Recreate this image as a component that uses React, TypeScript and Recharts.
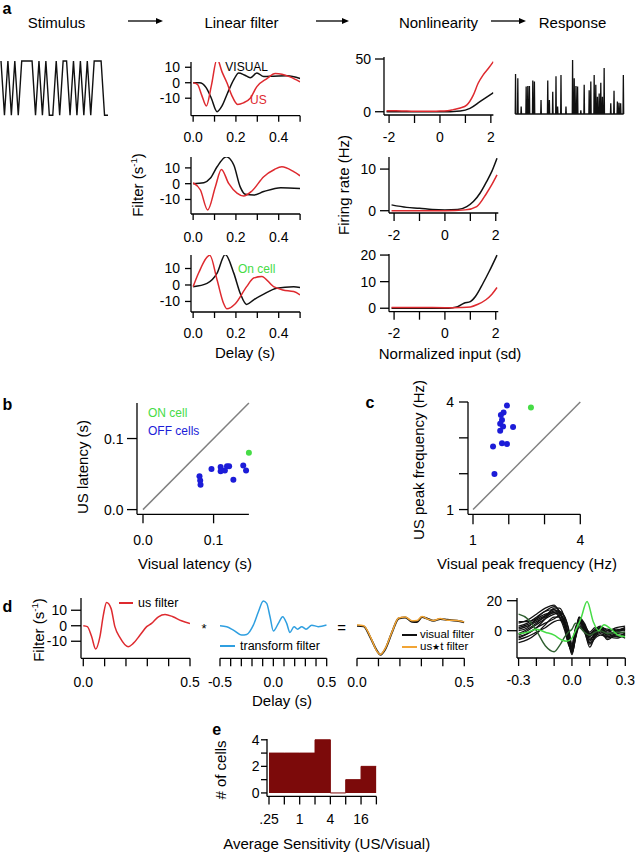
import React from "react";
import { ComposedChart, Line, Area, Scatter, XAxis, YAxis, ReferenceLine } from "recharts";

const RED = "#de2a2f";
const BLACK = "#111111";
const GREEN = "#46dc46";
const BLUE = "#1c1cd8";
const GRAY = "#808080";
const SKY = "#2f9fe0";
const ORANGE = "#f2a535";
const DKGREEN = "#2f5f30";
const MAROON = "#7c0a0a";
const FONT = '"Liberation Sans", Arial, Helvetica, sans-serif';

// a: stimulus (binary flicker) and spike response
const stimulusLevels = [1, 0, 1, 0, 1, 0, 1, 1, 1, 1, 0, 1, 0, 1, 0, 0, 1, 0, 1, 1, 0, 1, 0, 1, 0, 1, 0, 1, 1, 1, 0, 0];
const spikeTimes = [0, 0.21, 0.52, 0.98, 1.13, 1.28, 1.59, 1.74, 2.35, 2.97, 3.12, 3.43, 3.73, 3.88, 4.19, 4.65, 5.26, 5.41, 5.57, 5.72, 6.02, 6.33, 6.79, 6.94, 7.25, 7.4, 7.55, 7.71, 7.86, 8.01, 8.17, 8.78, 9.08, 9.39, 9.54, 9.69, 9.94];
const spikeHeights = [0.74, 0.66, 0.14, 0.51, 0.52, 0.52, 0.62, 0.6, 0.26, 0.62, 0.26, 0.41, 0.7, 0.14, 0.72, 0.14, 1, 0.66, 0.52, 0.51, 0.07, 0.54, 0.44, 0.6, 0.72, 0.54, 0.32, 0.38, 0.58, 0.32, 0.85, 0.2, 0.43, 0.23, 0.21, 0.2, 0.72];

// a: linear filters (delay s, filter s^-1)
const a1VisualDelay = [0, 0.03, 0.06, 0.085, 0.112, 0.135, 0.16, 0.19, 0.213, 0.24, 0.267, 0.298, 0.33, 0.376, 0.44, 0.5];
const a1Visual = [0, 0, -3, -10, -18.7, -15, -7, 2, 6.3, 5, 3.2, 6.3, 4, 4.2, 4.5, 2.7];
const a1UsDelay = [0, 0.02, 0.04, 0.062, 0.085, 0.112, 0.135, 0.158, 0.18, 0.208, 0.235, 0.267, 0.298, 0.345, 0.384, 0.415, 0.453, 0.5];
const a1Us = [0, -1, -8, -15, -2, 15.4, 7, 0, -8, -14, -13, -10, -2.5, 2.7, 5.9, 5.5, 3.8, 0.6];
const a2VisualDelay = [0, 0.05, 0.08, 0.112, 0.155, 0.19, 0.22, 0.244, 0.283, 0.33, 0.41, 0.5];
const a2Visual = [0, 0.6, 3.4, 10.7, 17, 11.8, -2, -6.7, -7.2, -5, -2.5, -3];
const a2UsDelay = [0, 0.034, 0.068, 0.104, 0.132, 0.166, 0.205, 0.236, 0.275, 0.33, 0.38, 0.415, 0.47, 0.5];
const a2Us = [0.6, -4, -16.6, -1.9, 9, 0.2, -6, -7.8, -4.6, 4.4, 9, 10.7, 7.6, 5];
const a3VisualDelay = [0, 0.065, 0.112, 0.15, 0.19, 0.22, 0.25, 0.283, 0.33, 0.39, 0.47, 0.5];
const a3Visual = [-1, 1, 7.2, 18.5, 7.2, -5, -11.8, -9, -5.6, -2, -1, -1.6];
const a3UsDelay = [0, 0.026, 0.078, 0.112, 0.143, 0.158, 0.197, 0.25, 0.283, 0.32, 0.376, 0.42, 0.47, 0.5];
const a3Us = [-1, 7.4, 18, 3, -11.4, -14.5, -11.4, -1, 4.2, 5.2, -1, -3, -4, -6];

// a: nonlinearities (input sd, rate Hz)
const n1UsInput = [-2.1, -1.5, -1, -0.5, 0, 0.3, 0.52, 0.8, 1.05, 1.31, 1.5, 1.7, 1.9, 2.1];
const n1Us = [1, 0.8, 0.5, 0.5, 0.6, 1, 2, 3.5, 6.3, 15.8, 27, 35, 41, 47.5];
const n1VisualInput = [-2.1, -1, 0, 0.8, 1.18, 1.57, 2.1];
const n1Visual = [0, 0, 0, 0.8, 3.2, 9.5, 18];
const n2VisualInput = [-2.1, -1.5, -1, -0.5, 0, 0.5, 0.86, 1.12, 1.38, 1.64, 1.85, 2.05];
const n2Visual = [1.4, 0.8, 0.6, 0.3, 0.2, 0.3, 1, 2.2, 4.2, 7, 9.5, 12.6];
const n2UsInput = [-2.1, -1, 0, 0.8, 1.25, 1.64, 1.85, 2.05];
const n2Us = [0, 0, 0, 0.2, 1, 4.2, 6.3, 8.6];
const n3VisualInput = [-2.1, -1, 0, 0.3, 0.5, 0.75, 1.0, 1.2, 1.5, 1.75, 2.05];
const n3Visual = [0, 0, 0, 0.2, 0.6, 1.9, 2.5, 4.4, 9.4, 14, 20];
const n3UsInput = [-2.1, -1, 0, 0.6, 1.0, 1.3, 1.6, 1.85, 2.05];
const n3Us = [0.3, 0.3, 0.2, 0.3, 0.5, 1.5, 3.1, 5.3, 7.8];

// b: latencies (s)
const offVisualLatency = [0.08, 0.081, 0.0815, 0.097, 0.11, 0.11, 0.116, 0.119, 0.122, 0.128, 0.142, 0.146];
const offUsLatency = [0.047, 0.041, 0.035, 0.057, 0.06, 0.054, 0.055, 0.061, 0.061, 0.042, 0.062, 0.055];
const onVisualLatency = [0.15];
const onUsLatency = [0.08];

// c: peak frequencies (Hz)
const offVisualPeak = [1.95, 1.855, 1.78, 1.81, 1.76, 1.84, 1.76, 2.12, 1.81, 1.95, 1.56, 1.6];
const offUsPeak = [3.9, 3.71, 3.64, 3.5, 3.39, 3.32, 3.2, 3.3, 2.85, 2.83, 2.76, 1.99];
const onVisualPeak = [2.62];
const onUsPeak = [3.85];

// d: us filter * transform filter = visual filter
const usFilterDelay = [0, 0.019, 0.039, 0.058, 0.078, 0.094, 0.109, 0.13, 0.148, 0.172, 0.21, 0.234, 0.266, 0.297, 0.32, 0.352, 0.383, 0.42, 0.46, 0.5];
const usFilter = [0, -0.6, -7, -15, -7, 6.9, 15, 11.2, -0.6, -7.7, -13.5, -11.4, -6, -0.6, 1.5, 5.8, 7.3, 5.8, 3.2, 1.5];
const transformDelay = [-0.5, -0.4375, -0.375, -0.297, -0.25, -0.1875, -0.14, -0.094, -0.0625, -0.031, 0, 0.047, 0.0875, 0.125, 0.156, 0.194, 0.228, 0.266, 0.306, 0.36, 0.42, 0.5];
const transformFilter = [0, -0.6, -2.8, -6, -5.6, 0.4, 9, 15.9, 14.4, 5.8, -3.4, 1.5, 5.8, 1.5, -4.3, -0.6, -2.2, -0.6, -2.2, 0.4, -0.6, 0.5];
const visualFilterDelay = [0, 0.031, 0.062, 0.093, 0.109, 0.132, 0.163, 0.194, 0.225, 0.256, 0.28, 0.303, 0.326, 0.357, 0.388, 0.42, 0.466, 0.5];
const visualFilter = [0, -0.4, -7.5, -16.1, -18.7, -15, -4.3, 4.7, 5.4, 2.6, 2.4, 5.6, 4.7, 3.2, 4.3, 3.9, 3.2, 2.2];
const usTFilter = [0.5, 0, -7, -16.5, -18.5, -14.5, -4, 5, 5.6, 3.2, 3.4, 6, 4.5, 3.4, 4.6, 3.6, 3.4, 2.5];

// d: all cells, aligned filters
const sweepDelay = [-0.3, -0.25, -0.2, -0.15, -0.1, -0.07, -0.04, -0.02, 0, 0.02, 0.04, 0.07, 0.1, 0.13, 0.16, 0.2, 0.25, 0.3];
const offFilters = [
  [-2, 1, 5, 10, 14, 12, 4, -6, -13, -3, 6, 3, -3, -1, 1, -2, -1, 1],
  [3, 5, 9, 13, 16, 13, 5, -4, -15, -5, 8, 4, -6, -2, 0, -3, 0, 2],
  [-5, -2, 2, 5, 8, 10, 6, -3, -12, 0, 5, 1, -8, -3, 1, -4, -2, -3],
  [1, 3, 6, 9, 12, 11, 6, -3, -11, -1, 7, 2, -4, 0, 2, -1, 1, 0],
  [-8, -6, -2, 4, 9, 9, 2, -8, -14, -2, 4, 0, -11, -4, -2, -5, -3, -5],
  [5, 7, 11, 15, 17, 12, 3, -7, -16, -4, 9, 5, -2, 1, 3, 0, 2, 3],
  [-3, 0, 4, 8, 11, 12, 9, 1, -10, 2, 6, 3, -5, -3, -1, -2, -4, -2],
  [0, 2, 8, 13, 14, 9, 0, -9, -13, -4, 3, 0, -7, -1, 2, -3, 0, 1],
  [-6, -4, -1, 2, 6, 7, 5, -2, -12, -1, 9, 2, -3, -2, 0, -6, -2, -1],
  [2, 4, 7, 10, 13, 13, 9, 2, -9, 1, 5, 3, -1, 2, 1, -2, -1, -2],
  [-4, -2, 2, 8, 15, 15, 7, -6, -15, -5, 2, -1, -9, -5, -3, -4, -5, -3],
  [6, 6, 8, 11, 12, 9, 3, -4, -11, 0, 7, 4, -2, 0, 2, 1, 0, 2],
];
const darkGreenFilter = [11, 8, 0, -10, -14, -10, -4, -1, 1, 5, 3, -1, -3, -1, 0, -2, -1, -1];
const onCellDelay = [-0.3, -0.25, -0.2, -0.15, -0.1, -0.06, -0.03, 0, 0.02, 0.05, 0.085, 0.12, 0.15, 0.18, 0.22, 0.26, 0.3];
const onCellFilter = [-2, -1, 1, -1, -3, -6, -7, -5, 0, 8, 19.5, 6, 0, 4, 1, -3, -4];

// e: histogram of average sensitivity (log2 bin edges)
const sensitivityBinStart = [-2, -1, 0, 1, 2, 3, 4];
const sensitivityBinEnd = 5;
const cellCounts = [3, 3, 3, 4, 0, 1, 2];
const sensitivityLabels: Record<number, string> = { [-2]: ".25", 0: "1", 2: "4", 4: "16" };

const pts = (xs: number[], ys: number[]) => xs.map((x, i) => ({ x, y: ys[i] }));
const stimulusRows = stimulusLevels.map((v, i) => ({ x: i, y: v }));
const responseRows = spikeTimes.flatMap((t, i) => [
  { x: t - 0.03, y: 0 },
  { x: t, y: spikeHeights[i] },
  { x: t + 0.03, y: 0 },
]);
const histRows = [
  ...sensitivityBinStart.map((x, i) => ({ x, y: cellCounts[i] })),
  { x: sensitivityBinEnd, y: cellCounts[cellCounts.length - 1] },
];

type Box = { x: number; y: number; w: number; h: number };
const AX = { stroke: "#000", strokeWidth: 1.3 };
const TICK = { fill: "#000", fontSize: 14 };

const only = (shown: number[], fmt: (v: number) => string) => (v: number) =>
  shown.some((s) => Math.abs(s - v) < 1e-9) ? fmt(v) : "";
const f1 = (v: number) => v.toFixed(1);

function Plot({ box, yw = 0, xh = 0, padLeft = 4, children }: {
  box: Box; yw?: number; xh?: number; padLeft?: number; children: React.ReactNode;
}) {
  const pad = { top: 10, right: 14, bottom: 6, left: padLeft };
  return (
    <div style={{ position: "absolute", left: box.x - yw - pad.left, top: box.y - pad.top }}>
      <ComposedChart width={pad.left + yw + box.w + pad.right} height={pad.top + box.h + xh + pad.bottom} margin={pad}>
        {children}
      </ComposedChart>
    </div>
  );
}

function xAxis(domain: [number, number], ticks: number[], fmt: (v: number) => string, size: number, margin: number, clip = true) {
  return (
    <XAxis type="number" dataKey="x" domain={domain} allowDataOverflow={clip} ticks={ticks} interval={0}
      tickFormatter={fmt} tickSize={size} tickMargin={margin} height={34} axisLine={AX} tickLine={AX} tick={TICK} />
  );
}

function yAxis(domain: [number, number], ticks: number[], fmt: (v: number) => string, size: number, margin: number, clip = true) {
  return (
    <YAxis type="number" dataKey="y" domain={domain} allowDataOverflow={clip} ticks={ticks} interval={0}
      tickFormatter={fmt} tickSize={size} tickMargin={margin} width={40} axisLine={AX} tickLine={AX} tick={TICK} />
  );
}

function trace(data: { x: number; y: number }[], color: string, width = 1.5, type: "monotone" | "linear" = "monotone") {
  return <Line data={data} dataKey="y" type={type} stroke={color} strokeWidth={width} dot={false} isAnimationActive={false} />;
}

function dots(data: { x: number; y: number }[], color: string) {
  return (
    <Scatter data={data} dataKey="y" fill={color} isAnimationActive={false}
      shape={(p: any) => <circle cx={p.cx} cy={p.cy} r={3} fill={color} />} />
  );
}

function T({ x, y, children, size = 15, color = "#000", align = "middle", rotate = false, bold = false }: {
  x: number; y: number; children: React.ReactNode; size?: number; color?: string;
  align?: "middle" | "start"; rotate?: boolean; bold?: boolean;
}) {
  const dx = align === "middle" ? "-50%" : "0%";
  return (
    <div style={{
      position: "absolute", left: x, top: y, transform: `translate(${dx}, -50%)` + (rotate ? " rotate(-90deg)" : ""),
      fontSize: size, color, fontWeight: bold ? 700 : 400, whiteSpace: "nowrap", lineHeight: 1,
    }}>
      {children}
    </div>
  );
}

function Swatch({ x1, x2, y, color }: { x1: number; x2: number; y: number; color: string }) {
  return <div style={{ position: "absolute", left: x1, top: y - 1, width: x2 - x1, height: 2, background: color }} />;
}

const FILTER_X = [0, 0.1, 0.2, 0.3, 0.4, 0.5];
const NL_X = [-2, -1, 0, 1, 2];

export default function App() {
  const filterPanel = (box: Box, yDom: [number, number], labelY: number, visual: any[], us: any[]) => (
    <Plot box={box} yw={40} xh={34}>
      {xAxis([-0.01, 0.5], FILTER_X, only([0, 0.2, 0.4], f1), 6, labelY - 5 - (box.y + box.h) - 6)}
      {yAxis(yDom, [-10, 0, 10], String, 6, 5)}
      {trace(visual, BLACK)}
      {trace(us, RED)}
    </Plot>
  );
  const nlPanel = (box: Box, yDom: [number, number], yTicks: number[], labelY: number, visual: any[], us: any[]) => (
    <Plot box={box} yw={40} xh={34}>
      {xAxis([-2.2, 2.1], NL_X, only([-2, 0, 2], String), 8, labelY - 5 - (box.y + box.h) - 8)}
      {yAxis(yDom, yTicks, String, 9, 4)}
      {trace(visual, BLACK)}
      {trace(us, RED)}
    </Plot>
  );

  return (
    <div style={{ position: "absolute", left: 0, top: 0, width: 636, height: 852, fontFamily: FONT, background: "#fff" }}>
      {/* panel a header */}
      <T x={7} y={9} size={16} bold>a</T>
      <T x={56.5} y={21.5}>Stimulus</T>
      <T x={241.5} y={21.5}>Linear filter</T>
      <T x={438.5} y={21.5}>Nonlinearity</T>
      <T x={572.5} y={21.5}>Response</T>
      <svg style={{ position: "absolute", left: 0, top: 0 }} width={636} height={40}>
        {[[128, 163], [316, 349], [491, 526]].map(([a, b]) => (
          <g key={a}>
            <line x1={a} y1={21} x2={b - 5} y2={21} stroke="#000" strokeWidth={1.3} />
            <polygon points={`${b},21 ${b - 7},18 ${b - 7},24`} fill="#000" />
          </g>
        ))}
      </svg>

      <Plot box={{ x: 1, y: 60.7, w: 107, h: 54.3 }}>
        <XAxis type="number" dataKey="x" domain={[0, stimulusLevels.length - 1]} hide />
        <YAxis type="number" dataKey="y" domain={[0, 1]} hide />
        {trace(stimulusRows, BLACK, 1.4, "linear")}
      </Plot>
      <Plot box={{ x: 515, y: 60, w: 109, h: 54 }}>
        <XAxis type="number" dataKey="x" domain={[-0.05, 10]} hide />
        <YAxis type="number" dataKey="y" domain={[0, 1]} hide />
        {trace(responseRows, BLACK, 1.3, "linear")}
      </Plot>

      {filterPanel({ x: 190.9, y: 62, w: 109.1, h: 53.7 }, [-21.3, 13.4], 137, pts(a1VisualDelay, a1Visual), pts(a1UsDelay, a1Us))}
      {filterPanel({ x: 190.9, y: 157, w: 109.1, h: 57 }, [-19.2, 16.9], 236.7, pts(a2VisualDelay, a2Visual), pts(a2UsDelay, a2Us))}
      {filterPanel({ x: 190.9, y: 255, w: 109.1, h: 57 }, [-16.4, 18.2], 333, pts(a3VisualDelay, a3Visual), pts(a3UsDelay, a3Us))}
      <T x={246.7} y={67} size={12}>VISUAL</T>
      <T x={258.3} y={100} size={12} color={RED}>US</T>
      <T x={256.7} y={269.3} size={12} color={GREEN}>On cell</T>
      <T x={137} y={185} rotate>Filter (s<sup style={{ fontSize: "0.65em" }}>-1</sup>)</T>
      <T x={245} y={352}>Delay (s)</T>

      {nlPanel({ x: 384.2, y: 57, w: 109.4, h: 58 }, [-3.1, 51.9], [0, 50], 136.7, pts(n1VisualInput, n1Visual), pts(n1UsInput, n1Us))}
      {nlPanel({ x: 388.9, y: 157, w: 109.3, h: 56 }, [-0.55, 12.9], [0, 10], 235, pts(n2VisualInput, n2Visual), pts(n2UsInput, n2Us))}
      {nlPanel({ x: 388.9, y: 254, w: 109.3, h: 57.7 }, [-1.3, 20.4], [0, 10, 20], 333, pts(n3VisualInput, n3Visual), pts(n3UsInput, n3Us))}
      <T x={343} y={185} rotate>Firing rate (Hz)</T>
      <T x={450} y={353}>Normalized input (sd)</T>

      {/* panel b */}
      <T x={7.5} y={405} size={16} bold>b</T>
      <Plot box={{ x: 136.7, y: 402.7, w: 111.9, h: 111.3 }} yw={40} xh={34}>
        {xAxis([-0.0085, 0.15], [0, 0.1], f1, 9, 540 - 5 - 514 - 9, false)}
        {yAxis([-0.0066, 0.15], [0, 0.1], f1, 10, 3.5, false)}
        <ReferenceLine segment={[{ x: 0, y: 0 }, { x: 0.15, y: 0.15 }]} stroke={GRAY} strokeWidth={1.5} />
        {dots(pts(offVisualLatency, offUsLatency), BLUE)}
        {dots(pts(onVisualLatency, onUsLatency), GREEN)}
      </Plot>
      <T x={148} y={412.7} size={12} color={GREEN} align="start">ON cell</T>
      <T x={148} y={431} size={12} color={BLUE} align="start">OFF cells</T>
      <T x={82} y={466.7} rotate>US latency (s)</T>
      <T x={195} y={563.3}>Visual latency (s)</T>

      {/* panel c */}
      <T x={370} y={403} size={16} bold>c</T>
      <Plot box={{ x: 467.7, y: 401.7, w: 112.3, h: 112.3 }} yw={40} xh={34}>
        {xAxis([0.86, 4], [1, 2, 3, 4], only([1, 4], String), 10, 540 - 5 - 514 - 10, false)}
        {yAxis([0.868, 4], [1, 2, 3, 4], only([1, 4], String), 9, 5, false)}
        <ReferenceLine segment={[{ x: 1, y: 1 }, { x: 4, y: 4 }]} stroke={GRAY} strokeWidth={1.5} />
        {dots(pts(offVisualPeak, offUsPeak), BLUE)}
        {dots(pts(onVisualPeak, onUsPeak), GREEN)}
      </Plot>
      <T x={418} y={460} rotate>US peak frequency (Hz)</T>
      <T x={527} y={563.3}>Visual peak frequency (Hz)</T>

      {/* panel d */}
      <T x={7.5} y={607} size={16} bold>d</T>
      <Plot box={{ x: 81, y: 598, w: 109, h: 60.3 }} yw={40} xh={34}>
        {xAxis([-0.0107, 0.5], FILTER_X, only([0, 0.5], f1), 8, 681.7 - 5 - 658.3 - 8)}
        {yAxis([-21, 17.9], [-10, 0, 10], String, 10, 4)}
        {trace(pts(usFilterDelay, usFilter), RED)}
      </Plot>
      <Swatch x1={119} x2={133} y={603} color={RED} />
      <T x={138} y={603} size={12.5} align="start">us filter</T>
      <T x={38} y={630} rotate>Filter (s<sup style={{ fontSize: "0.65em" }}>-1</sup>)</T>
      <T x={204} y={628} size={13}>*</T>

      <Plot box={{ x: 220, y: 598, w: 106.7, h: 60.3 }} xh={34} padLeft={20}>
        {xAxis([-0.5, 0.5], [-0.5, -0.4, -0.3, -0.2, -0.1, 0, 0.1, 0.2, 0.3, 0.4, 0.5], only([-0.5, 0, 0.5], f1), 8, 681.7 - 5 - 658.3 - 8)}
        <YAxis type="number" dataKey="y" domain={[-21, 17.9]} allowDataOverflow hide />
        {trace(pts(transformDelay, transformFilter), SKY)}
      </Plot>
      <Swatch x1={220} x2={235} y={645.7} color={SKY} />
      <T x={240} y={645.7} size={12.5} align="start">transform filter</T>
      <T x={341.7} y={626.7} size={15}>=</T>
      <T x={282} y={700}>Delay (s)</T>

      <Plot box={{ x: 356.7, y: 598, w: 107.3, h: 60.3 }} xh={34} padLeft={20}>
        {xAxis([0, 0.5], FILTER_X, only([0, 0.5], f1), 8, 681.7 - 5 - 658.3 - 8)}
        <YAxis type="number" dataKey="y" domain={[-21, 17.9]} allowDataOverflow hide />
        {trace(pts(visualFilterDelay, visualFilter), BLACK, 2)}
        {trace(pts(visualFilterDelay, usTFilter), ORANGE, 1.5)}
      </Plot>
      <Swatch x1={401.7} x2={416.7} y={634.5} color={BLACK} />
      <T x={420} y={634.5} size={11.5} align="start">visual filter</T>
      <Swatch x1={401.7} x2={416.7} y={646.5} color={ORANGE} />
      <T x={420} y={646.5} size={11.5} align="start">us<span style={{ fontSize: "0.8em" }}>★</span>t filter</T>

      <Plot box={{ x: 516.7, y: 598.3, w: 108.3, h: 60 }} yw={40} xh={34}>
        {xAxis([-0.309, 0.3], [-0.3, -0.2, -0.1, 0, 0.1, 0.2, 0.3], only([-0.3, 0, 0.3], f1), 8, 680 - 5 - 658.3 - 8)}
        {yAxis([-18.2, 21.8], [0, 20], String, 10, 5)}
        {offFilters.map((f, i) => (
          <Line key={i} data={pts(sweepDelay, f)} dataKey="y" type="monotone" stroke={BLACK} strokeWidth={1.3} dot={false} isAnimationActive={false} />
        ))}
        {trace(pts(sweepDelay, darkGreenFilter), DKGREEN, 1.4)}
        {trace(pts(onCellDelay, onCellFilter), GREEN, 1.5)}
      </Plot>

      {/* panel e */}
      <T x={216.7} y={730} size={16} bold>e</T>
      <Plot box={{ x: 267.3, y: 739.3, w: 109.4, h: 57.4 }} yw={40} xh={34}>
        {xAxis([-2.13, 5], [-2, -1, 0, 1, 2, 3, 4, 5], (v) => sensitivityLabels[v] ?? "", 8, 819.3 - 5 - 796.7 - 8)}
        {yAxis([-0.26, 4.06], [0, 1, 2, 3, 4], only([0, 2, 4], String), 6, 1.5)}
        <Area data={histRows} dataKey="y" type="stepAfter" baseValue={0} stroke={MAROON} fill={MAROON} fillOpacity={1} isAnimationActive={false} />
      </Plot>
      <T x={220} y={770} rotate>
        # of cells
      </T>
      <T x={326.7} y={843.3}>Average Sensitivity (US/Visual)</T>
    </div>
  );
}
